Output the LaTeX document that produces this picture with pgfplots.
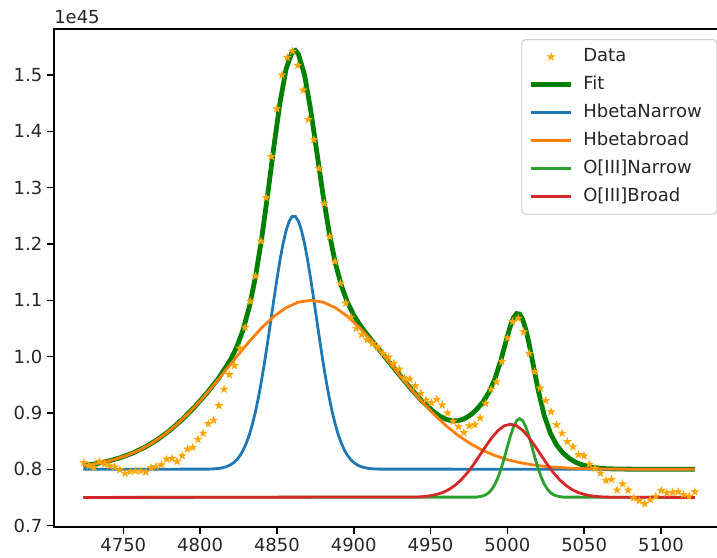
\documentclass[border=0pt]{standalone}
\usepackage{fontspec}
\setmainfont{DejaVu Sans}
\usepackage{pgfplots}
\pgfplotsset{compat=1.18}

\definecolor{mplorange}{HTML}{FFA500}
\definecolor{fitgreen}{HTML}{008000}
\definecolor{tabblue}{HTML}{1F77B4}
\definecolor{taborange}{HTML}{FF7F0E}
\definecolor{tabgreen}{HTML}{2CA02C}
\definecolor{tabred}{HTML}{D62728}

% filled five-point star, like matplotlib's '*'
\pgfdeclareplotmark{fstar}{%
  \pgfpathmoveto{\pgfpointpolar{90}{\pgfplotmarksize}}%
  \pgfpathlineto{\pgfpointpolar{126}{0.382\pgfplotmarksize}}%
  \pgfpathlineto{\pgfpointpolar{162}{\pgfplotmarksize}}%
  \pgfpathlineto{\pgfpointpolar{198}{0.382\pgfplotmarksize}}%
  \pgfpathlineto{\pgfpointpolar{234}{\pgfplotmarksize}}%
  \pgfpathlineto{\pgfpointpolar{270}{0.382\pgfplotmarksize}}%
  \pgfpathlineto{\pgfpointpolar{306}{\pgfplotmarksize}}%
  \pgfpathlineto{\pgfpointpolar{342}{0.382\pgfplotmarksize}}%
  \pgfpathlineto{\pgfpointpolar{18}{\pgfplotmarksize}}%
  \pgfpathlineto{\pgfpointpolar{54}{0.382\pgfplotmarksize}}%
  \pgfpathclose
  \pgfusepathqfillstroke}

\begin{document}
\begin{tikzpicture}
\begin{axis}[
  name=ax,
  scale only axis,
  width=504.1pt, height=373.3pt,
  xmin=4704.9, xmax=5142.4,
  ymin=0.698, ymax=1.5816,
  xtick={4750,4800,4850,4900,4950,5000,5050,5100},
  ytick={0.7,0.8,0.9,1.0,1.1,1.2,1.3,1.4,1.5},
  scaled y ticks=false,
  /pgf/number format/assume math mode=true,
  xticklabel style={/pgf/number format/1000 sep={}},
  yticklabel style={/pgf/number format/.cd, fixed, fixed zerofill, precision=1},
  tick label style={font=\fontsize{13.5}{16}\selectfont, text=black!85},
  tick align=outside,
  major tick length=5.2pt,
  every tick/.style={black, line width=1.15pt},
  axis line style={line width=1.15pt},
  xtick pos=bottom, ytick pos=left,
  legend cell align=left,
  legend image code/.code={\draw[mark repeat=2,mark phase=2,#1] plot coordinates {(0pt,0pt) (14.85pt,0pt) (29.7pt,0pt)};},
  legend style={
    at={(1,1)}, anchor=north east, xshift=-6.5pt, yshift=-7.5pt,
    draw=black!20, line width=0.75pt, rounded corners=3pt,
    fill=white, fill opacity=0.8, text opacity=1,
    font=\fontsize{13.5}{16}\selectfont, text=black!85,
    inner xsep=5.25pt, inner ysep=6.5pt,
    row sep=8pt,
    nodes={inner sep=0pt, text height=10pt, text depth=3pt, text width=95pt},
    /tikz/every odd column/.append style={column sep=7.5pt},
  },
]
\addplot[only marks, mark=fstar, mark size=2.7pt, color=mplorange, mark options={line width=0.5pt}] coordinates {
(4724.3,0.812) (4727.7,0.806) (4731.0,0.803) (4734.4,0.814) (4737.7,0.809)
(4741.1,0.806) (4744.4,0.804) (4747.8,0.799) (4751.2,0.793) (4754.5,0.796)
(4757.9,0.797) (4761.3,0.797) (4764.7,0.795) (4768.0,0.803) (4771.4,0.805)
(4774.8,0.808) (4778.2,0.818) (4781.6,0.819) (4785.0,0.814) (4788.4,0.824)
(4791.8,0.836) (4795.2,0.839) (4798.6,0.853) (4802.0,0.864) (4805.4,0.881)
(4808.8,0.887) (4812.2,0.913) (4815.6,0.942) (4819.0,0.968) (4822.4,0.984)
(4825.9,1.015) (4829.3,1.052) (4832.7,1.098) (4836.1,1.143) (4839.6,1.205)
(4843.0,1.282) (4846.4,1.355) (4849.9,1.440) (4853.3,1.500) (4856.7,1.531)
(4860.2,1.542) (4863.6,1.517) (4867.1,1.473) (4870.5,1.421) (4874.0,1.385)
(4877.4,1.334) (4880.9,1.272) (4884.4,1.213) (4887.8,1.169) (4891.3,1.130)
(4894.8,1.095) (4898.2,1.070) (4901.7,1.050) (4905.2,1.039) (4908.7,1.030)
(4912.1,1.023) (4915.6,1.017) (4919.1,1.006) (4922.6,0.999) (4926.1,0.988)
(4929.6,0.978) (4933.1,0.962) (4936.6,0.960) (4940.1,0.948) (4943.6,0.935)
(4947.1,0.923) (4950.6,0.918) (4954.1,0.924) (4957.6,0.914) (4961.1,0.900)
(4964.7,0.885) (4968.2,0.876) (4971.7,0.865) (4975.2,0.877) (4978.8,0.879)
(4982.3,0.891) (4985.8,0.917) (4989.4,0.942) (4992.9,0.955) (4996.4,0.991)
(5000.0,1.033) (5003.5,1.062) (5007.1,1.068) (5010.6,1.044) (5014.2,1.006)
(5017.7,0.973) (5021.3,0.944) (5024.9,0.922) (5028.4,0.902) (5032.0,0.879)
(5035.6,0.864) (5039.1,0.849) (5042.7,0.840) (5046.3,0.826) (5049.9,0.824)
(5053.4,0.809) (5057.0,0.802) (5060.6,0.793) (5064.2,0.780) (5067.8,0.782)
(5071.4,0.763) (5075.0,0.774) (5078.6,0.763) (5082.2,0.749) (5085.8,0.744)
(5089.4,0.739) (5093.0,0.746) (5096.6,0.752) (5100.2,0.762) (5103.8,0.758)
(5107.5,0.759) (5111.1,0.760) (5114.7,0.755) (5118.3,0.752) (5122.0,0.760)
};
\addlegendentry{Data}
\addplot[no markers, color=fitgreen, line width=3.6pt] coordinates {
(4724,0.8065) (4732,0.8098) (4740,0.8143) (4748,0.8205) (4756,0.8286)
(4764,0.8391) (4772,0.8523) (4780,0.8684) (4788,0.8875) (4796,0.9094)
(4804,0.9340) (4812,0.9615) (4820,0.9953) (4824,1.0180) (4828,1.0477)
(4832,1.0878) (4836,1.1410) (4840,1.2085) (4844,1.2879) (4848,1.3724)
(4852,1.4509) (4856,1.5109) (4860,1.5415) (4862,1.5437) (4864,1.5371)
(4868,1.4997) (4872,1.4375) (4876,1.3627) (4880,1.2874) (4884,1.2204)
(4888,1.1664) (4892,1.1255) (4896,1.0957) (4900,1.0737) (4904,1.0564)
(4908,1.0416) (4912,1.0278) (4916,1.0143) (4920,1.0006) (4928,0.9735)
(4936,0.9470) (4944,0.9225) (4952,0.9022) (4956,0.8944) (4960,0.8889)
(4964,0.8860) (4968,0.8862) (4972,0.8897) (4976,0.8964) (4980,0.9062)
(4984,0.9191) (4988,0.9365) (4992,0.9613) (4996,0.9958) (5000,1.0363)
(5002,1.0548) (5004,1.0689) (5006,1.0764) (5008,1.0755) (5010,1.0659)
(5012,1.0483) (5014,1.0245) (5016,0.9970) (5020,0.9412) (5024,0.8956)
(5028,0.8640) (5032,0.8434) (5036,0.8296) (5040,0.8199) (5044,0.8130)
(5048,0.8083) (5056,0.8031) (5064,0.8011) (5072,0.8004) (5088,0.8001)
(5122,0.8000)
};
\addlegendentry{Fit}
\addplot[no markers, color=tabblue, line width=2.1pt] coordinates {
(4724,0.8000) (4806,0.8003) (4810,0.8009) (4812,0.8015) (4814,0.8024)
(4816,0.8037) (4818,0.8055) (4820,0.8083) (4822,0.8121) (4824,0.8174)
(4826,0.8244) (4828,0.8338) (4830,0.8458) (4832,0.8609) (4834,0.8795)
(4836,0.9018) (4838,0.9279) (4840,0.9577) (4842,0.9907) (4844,1.0263)
(4846,1.0636) (4848,1.1011) (4850,1.1375) (4852,1.1712) (4854,1.2005)
(4856,1.2240) (4858,1.2405) (4860,1.2489) (4862,1.2489) (4864,1.2405)
(4866,1.2240) (4868,1.2005) (4870,1.1712) (4872,1.1375) (4874,1.1011)
(4876,1.0636) (4878,1.0263) (4880,0.9907) (4882,0.9577) (4884,0.9279)
(4886,0.9018) (4888,0.8795) (4890,0.8609) (4892,0.8458) (4894,0.8338)
(4896,0.8244) (4898,0.8174) (4900,0.8121) (4902,0.8083) (4904,0.8055)
(4906,0.8037) (4908,0.8024) (4910,0.8015) (4912,0.8009) (4916,0.8003)
(5122,0.8000)
};
\addlegendentry{HbetaNarrow}
\addplot[no markers, color=taborange, line width=2.1pt] coordinates {
(4724,0.8065) (4728,0.8080) (4736,0.8119) (4744,0.8171) (4752,0.8243)
(4760,0.8335) (4768,0.8454) (4776,0.8600) (4784,0.8776) (4792,0.8981)
(4800,0.9213) (4808,0.9467) (4816,0.9735) (4824,1.0006) (4832,1.0269)
(4840,1.0509) (4848,1.0713) (4856,1.0869) (4864,1.0967) (4872,1.1000)
(4880,1.0967) (4888,1.0869) (4896,1.0713) (4904,1.0509) (4912,1.0269)
(4920,1.0006) (4928,0.9735) (4936,0.9467) (4944,0.9213) (4952,0.8981)
(4960,0.8776) (4968,0.8600) (4976,0.8454) (4984,0.8335) (4992,0.8243)
(5000,0.8171) (5008,0.8119) (5016,0.8080) (5024,0.8053) (5032,0.8034)
(5040,0.8022) (5048,0.8013) (5056,0.8008) (5072,0.8003) (5088,0.8001)
(5122,0.8000)
};
\addlegendentry{Hbetabroad}
\addplot[no markers, color=tabgreen, line width=2.1pt] coordinates {
(4724,0.7500) (4980,0.7506) (4984,0.7526) (4986,0.7549) (4988,0.7588)
(4990,0.7649) (4992,0.7738) (4994,0.7861) (4996,0.8017) (4998,0.8201)
(5000,0.8399) (5002,0.8591) (5004,0.8753) (5006,0.8862) (5008,0.8900)
(5010,0.8862) (5012,0.8753) (5014,0.8591) (5016,0.8399) (5018,0.8201)
(5020,0.8017) (5022,0.7861) (5024,0.7738) (5026,0.7649) (5028,0.7588)
(5030,0.7549) (5032,0.7526) (5036,0.7506) (5122,0.7500)
};
\addlegendentry{O[III]Narrow}
\addplot[no markers, color=tabred, line width=2.1pt] coordinates {
(4724,0.7500) (4942,0.7509) (4946,0.7517) (4950,0.7531) (4954,0.7554)
(4958,0.7589) (4962,0.7642) (4966,0.7716) (4970,0.7815) (4974,0.7939)
(4978,0.8085) (4982,0.8247) (4986,0.8412) (4990,0.8565) (4994,0.8690)
(4998,0.8772) (5002,0.8800) (5006,0.8772) (5010,0.8690) (5014,0.8565)
(5018,0.8412) (5022,0.8247) (5026,0.8085) (5030,0.7939) (5034,0.7815)
(5038,0.7716) (5042,0.7642) (5046,0.7589) (5050,0.7554) (5054,0.7531)
(5058,0.7517) (5062,0.7509) (5066,0.7505) (5122,0.7500)
};
\addlegendentry{O[III]Broad}
\end{axis}
\node[anchor=base west, inner sep=0pt, font=\fontsize{13.5}{16}\selectfont, text=black!85] at ([yshift=4.3pt]ax.north west) {1e45};
\pgfresetboundingbox
\useasboundingbox ([shift={(-40.5pt,-22.7pt)}]ax.south west) rectangle ++(537.75pt,417.75pt);
\end{tikzpicture}
\end{document}
